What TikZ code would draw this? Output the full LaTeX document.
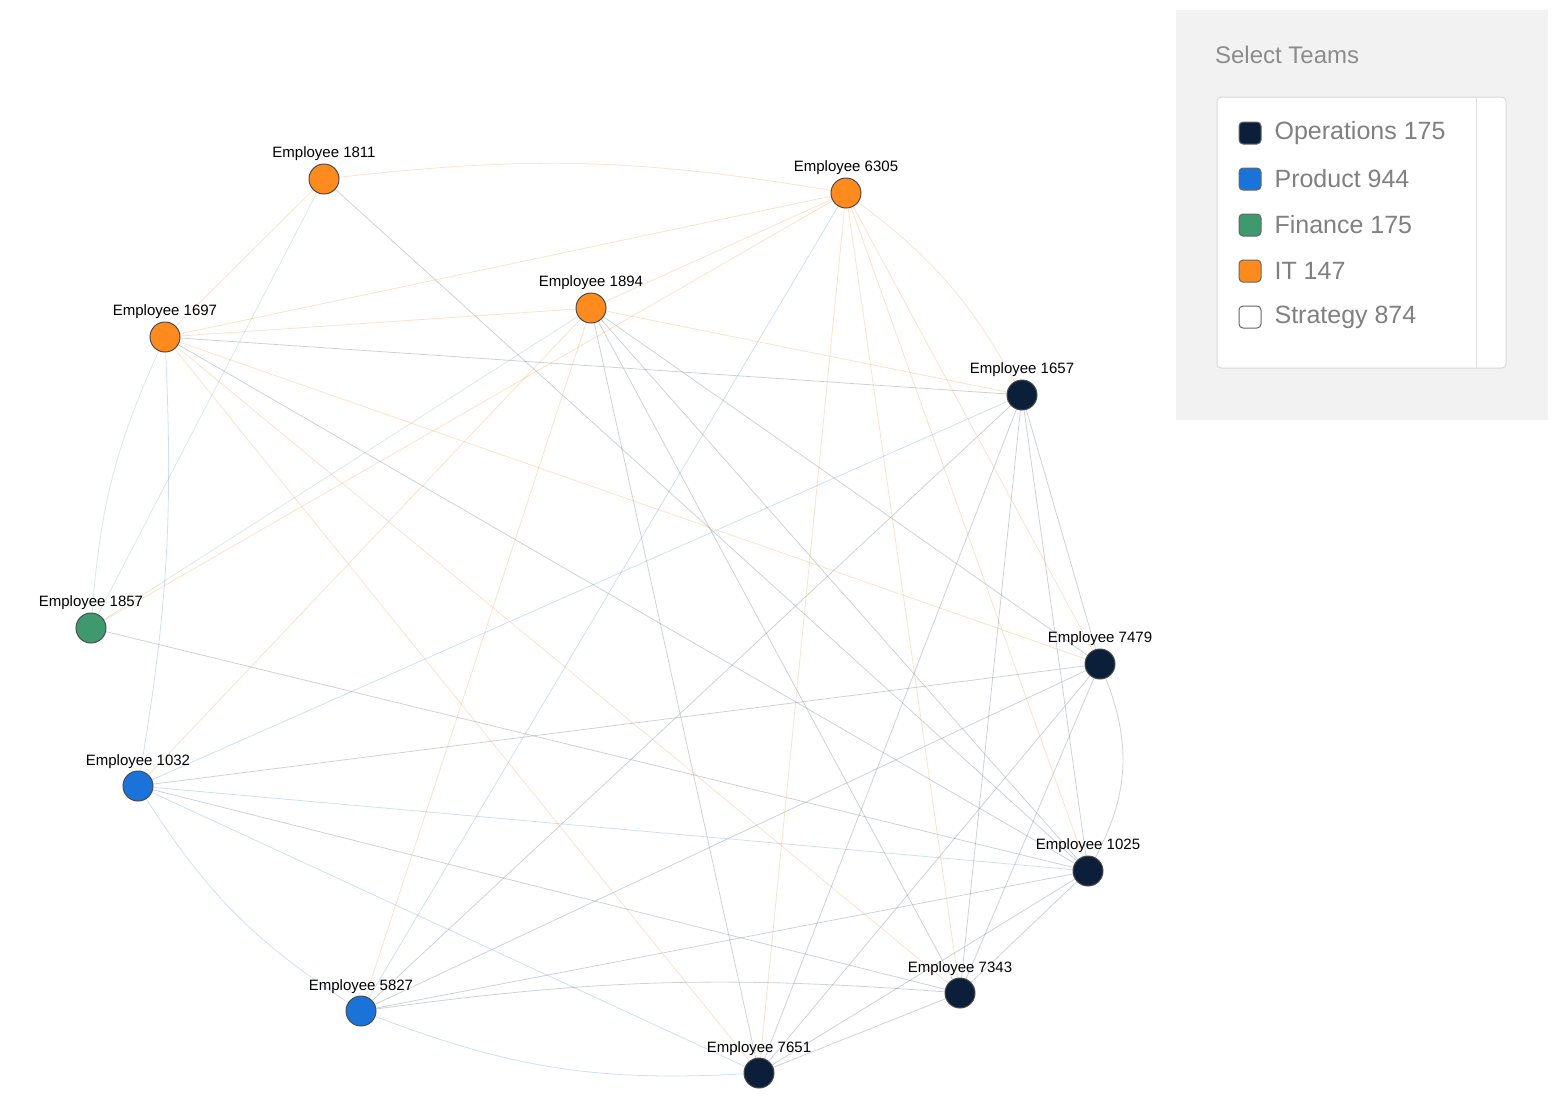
\documentclass[tikz,border=0pt]{standalone}
\usepackage{fontspec}
\setmainfont{Liberation Sans}
\usetikzlibrary{shapes,backgrounds}

\definecolor{ops}{HTML}{0B1F3A}
\definecolor{prod}{HTML}{1A73D9}
\definecolor{fin}{HTML}{3E9A6E}
\definecolor{it}{HTML}{FF8A1E}
\definecolor{lnk}{HTML}{5A6B82}

\begin{document}
\begin{tikzpicture} [
    x=0.5pt, y=-0.5pt,
  ]

  \tikzstyle{emp} = [
    circle,
    minimum size=15pt,
    inner sep=0pt,
    draw=black!70,
    line width=0.5pt,
    label={[font=\fontsize{7.5}{8}\selectfont, inner sep=1pt]above:#1},
  ]
  \tikzstyle{grey}   = [draw=lnk, draw opacity=0.3]
  \tikzstyle{orange} = [draw=it, draw opacity=0.25]
  \tikzstyle{blue}   = [draw=prod, draw opacity=0.22]
  \tikzstyle{green}  = [draw=fin, draw opacity=0.2]
  \tikzstyle{swatch} = [
    rounded corners=2pt,
    minimum size=11pt,
    inner sep=0pt,
    draw=black!60,
    line width=0.5pt,
  ]

  \useasboundingbox (0,0) rectangle (1560,1110);

  % nodes
  \node[emp=Employee 1811, fill=it]   (e1811) at (324,179)  {};
  \node[emp=Employee 6305, fill=it]   (e6305) at (846,193)  {};
  \node[emp=Employee 1894, fill=it]   (e1894) at (591,308)  {};
  \node[emp=Employee 1697, fill=it]   (e1697) at (165,337)  {};
  \node[emp=Employee 1657, fill=ops]  (e1657) at (1022,395) {};
  \node[emp=Employee 1857, fill=fin]  (e1857) at (91,628)   {};
  \node[emp=Employee 7479, fill=ops]  (e7479) at (1100,664) {};
  \node[emp=Employee 1032, fill=prod] (e1032) at (138,786)  {};
  \node[emp=Employee 1025, fill=ops]  (e1025) at (1088,871) {};
  \node[emp=Employee 7343, fill=ops]  (e7343) at (960,993)  {};
  \node[emp=Employee 5827, fill=prod] (e5827) at (361,1011) {};
  \node[emp=Employee 7651, fill=ops]  (e7651) at (759,1073) {};

  % links
  \begin{scope}[on background layer, line width=4.5pt]
  \foreach \a/\b in {1811/1025, 1894/7479, 1894/1025, 1894/7343, 1894/7651,
      1697/1657, 1697/1025, 1657/7479, 1657/1025, 1657/7343, 1657/7651,
      1657/5827, 1857/1025, 7479/1032, 7479/7343, 7479/7651, 7479/5827,
      1032/7343, 1025/7343, 1025/7651, 1025/5827, 7343/7651}
    \path[grey] (e\a) edge (e\b);
  \path[grey] (e7479) edge[bend left=25] (e1025);
  \path[grey] (e5827) edge[bend left=6] (e7343);

  \foreach \a/\b in {1811/1697, 6305/1697, 6305/1894, 6305/1857, 6305/7479,
      6305/1025, 6305/7343, 6305/7651, 1894/1697, 1894/1657, 1894/1032,
      1894/5827, 1697/7479, 1697/7343, 1697/7651}
    \path[orange] (e\a) edge (e\b);
  \path[orange] (e1811) edge[bend left=8] (e6305);
  \path[orange] (e6305) edge[bend left=12] (e1657);

  \foreach \a/\b in {6305/5827, 1657/1032, 1032/1025, 1032/7651}
    \path[blue] (e\a) edge (e\b);
  \path[blue] (e1697) edge[bend left=6] (e1032);
  \path[blue] (e1032) edge[bend right=12] (e5827);
  \path[blue] (e5827) edge[bend right=12] (e7651);

  \path[green] (e1811) edge (e1857);
  \path[green] (e1894) edge (e1857);
  \path[green] (e1697) edge[bend right=10] (e1857);
  \end{scope}

  % team selector
  \fill[black!5] (1176,10) rectangle (1548,420);
  \node[anchor=west, text=black!45, font=\fontsize{12}{14}\selectfont] (title) at (1208,55) {Select Teams};
  \draw[black!15, fill=white, line width=0.5pt, rounded corners=2pt] (1217,97) rectangle (1506,368);
  \draw[black!12, line width=0.5pt] (1476,97) -- (1476,368);
  \foreach \y/\c/\t in {133/ops/Operations 175, 179/prod/Product 944,
      225/fin/Finance 175, 271/it/IT 147, 317/white/Strategy 874}
    \node[swatch, fill=\c, label={[text=black!50, font=\fontsize{12.5}{14}\selectfont, xshift=3pt]right:\t}] at (1250,\y) {};

\end{tikzpicture}
\end{document}
